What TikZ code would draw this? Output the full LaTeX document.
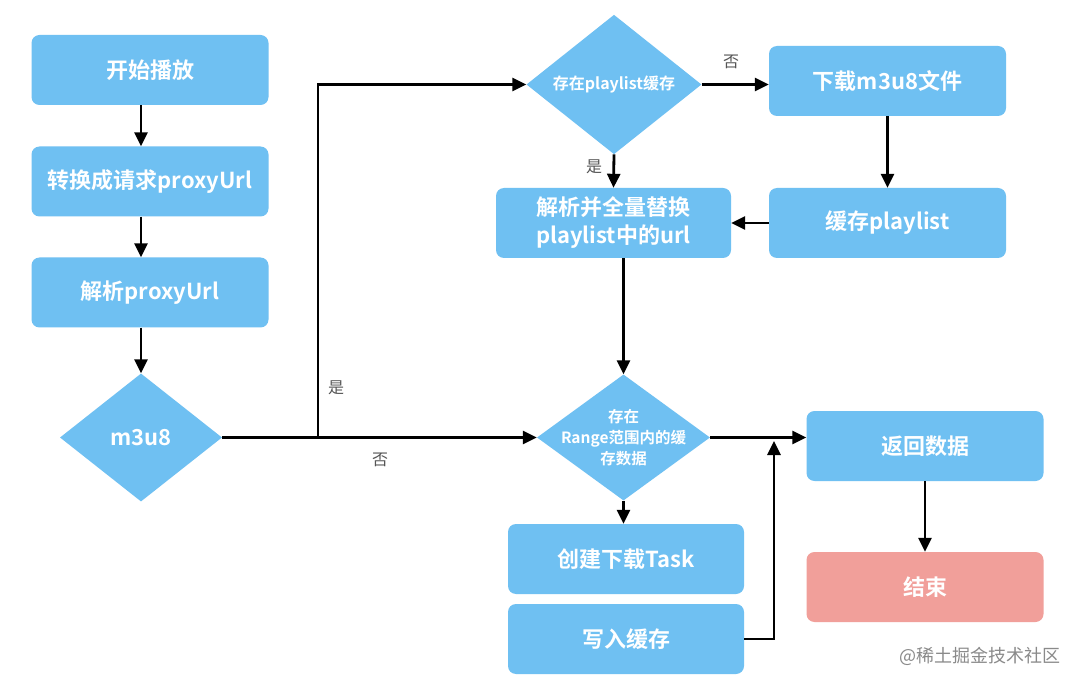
\documentclass[tikz,border=0pt]{standalone}
\usepackage{fontspec}
\setmainfont{Noto Sans CJK SC}[BoldFont={Noto Sans CJK SC Bold}]
\usetikzlibrary{shapes.geometric,arrows.meta,calc}
\definecolor{boxblue}{HTML}{6FC0F2}
\definecolor{endred}{HTML}{F19F9A}
\definecolor{lblgray}{HTML}{555555}
\definecolor{wmgray}{HTML}{8A8A8A}
\begin{document}
\begin{tikzpicture}[x=1pt,y=-1pt,
  flowbox/.style={rectangle,rounded corners=8pt,fill=boxblue,text=white,font=\bfseries\fontsize{22}{26}\selectfont,minimum width=237pt,minimum height=70pt,inner sep=0pt,align=center},
  endbox/.style={flowbox,fill=endred},
  decide/.style={diamond,fill=boxblue,text=white,inner sep=0pt,align=center,font=\bfseries\fontsize{16}{19}\selectfont},
  dtext/.style={text=white,inner sep=0pt,align=center,font=\bfseries\fontsize{15.5}{21}\selectfont},
  arr/.style={line width=2.8pt,-{Triangle[length=14pt,width=13pt]}},
  lbl/.style={text=lblgray,font=\fontsize{16}{18}\selectfont,inner sep=0pt}]
\path[use as bounding box,fill=white] (0,0) rectangle (1080,687);

% left column
\node[flowbox] (b1) at (150,70) {开始播放};
\node[flowbox] (b2) at (150,181.5) {转换成请求proxyUrl};
\node[flowbox] (b3) at (150,292.5) {解析proxyUrl};
\node[decide,minimum width=162pt,minimum height=128pt,font=\bfseries\fontsize{22}{26}\selectfont] (d1) at (141,437.5) {m3u8};

% top middle
\node[decide,minimum width=175pt,minimum height=127pt] (d2) at (614,84.5) {存在playlist缓存};
\node[flowbox] (dl) at (887.5,81) {下载m3u8文件};
\node[flowbox] (cp) at (887.5,223) {缓存playlist};
\node[flowbox,minimum width=235pt,font=\bfseries\fontsize{22}{28}\selectfont] (jx) at (613.5,223) {解析并全量替换\\playlist中的url};

% bottom middle
\node[decide,minimum width=173pt,minimum height=126pt] (d3) at (623.5,437.5) {};
\node[dtext] (d3t) at (d3.center) {存在\\Range范围内的缓\\存数据};
\node[flowbox,minimum width=236pt] (task) at (626,559) {创建下载Task};
\node[flowbox,minimum width=236pt] (xr) at (626,639) {写入缓存};

% right
\node[flowbox] (fh) at (925,446) {返回数据};
\node[endbox] (js) at (925,587) {结束};

% connectors
\draw[arr] (b1.south -| d1.north) -- (b2.north -| d1.north);
\draw[arr] (b2.south -| d1.north) -- (b3.north -| d1.north);
\draw[arr] (b3.south -| d1.north) -- (d1.north);

\coordinate (br) at (318,437.5);
\draw[arr] (d1.east) -- (d1.east -| d3.west);
\draw[arr] (br) |- (d2.west);
\node[lbl] (lyes1) at (336,388) {是};
\node[lbl] (lno1) at (380,460) {否};

\draw[arr] (d2.east) -- (d2.east -| dl.west);
\node[lbl] (lno2) at (731,62) {否};
\draw[arr] (dl.south) -- (cp.north);
\draw[arr] (cp.west) -- (cp.west -| jx.east);
\draw[arr] (d2.south) -- (jx.north);
\node[lbl] (lyes2) at (594,167) {是};
\draw[arr] (jx.south -| d3.north) -- (d3.north);

\draw[arr] (d3.east) -- (d3.east -| fh.west);
\draw[arr] (d3.south) -- (d3.south |- task.north);
\coordinate (jn) at (774,441);
\draw[arr] (xr.east) -| (jn);
\draw[arr] (fh.south) -- (js.north);

\node[text=wmgray,font=\fontsize{18}{20}\selectfont,inner sep=0pt] (wm) at (980,656) {@稀土掘金技术社区};
\end{tikzpicture}
\end{document}
